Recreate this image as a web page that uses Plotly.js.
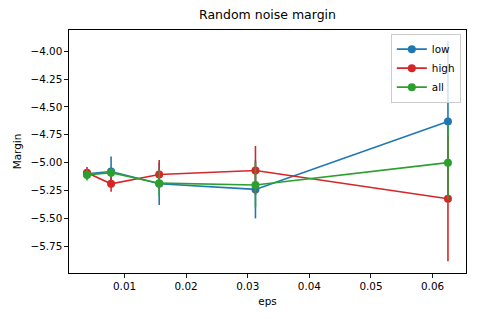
<!DOCTYPE html>
<html>
<head>
<meta charset="utf-8">
<script src="https://cdn.plot.ly/plotly-3.0.1.min.js"></script>
<style>html,body{margin:0;padding:0;background:#fff}#chart{width:478px;height:319px}</style>
</head>
<body>
<div id="chart"></div>
<script>
const eps = [0.00390625, 0.0078125, 0.015625, 0.03125, 0.0625];
const lowMean = [-5.10, -5.08, -5.19, -5.24, -4.63];
const lowErr = [0.04, 0.135, 0.19, 0.26, 0.72];
const highMean = [-5.09, -5.19, -5.106, -5.07, -5.324];
const highErr = [0.05, 0.07, 0.13, 0.22, 0.56];
const allMean = [-5.11, -5.09, -5.184, -5.20, -5.00];
const allErr = [0.05, 0.04, 0.12, 0.20, 0.33];
const seriesNames = ["low", "high", "all"];
const colors = ["#1f77b4", "#d62728", "#2ca02c"];

const means = [lowMean, highMean, allMean];
const errs = [lowErr, highErr, allErr];
const traces = seriesNames.map((n, i) => ({
  x: eps, y: means[i], name: n, type: "scatter", mode: "lines+markers",
  line: {color: colors[i], width: 1.6},
  marker: {color: colors[i], size: 8, symbol: "circle"},
  error_y: {type: "data", array: errs[i], visible: true, color: colors[i], thickness: 1.6, width: 0}
}));

const font = {family: "DejaVu Sans, sans-serif", size: 10.4, color: "#000"};
const layout = {
  width: 478, height: 319,
  margin: {l: 69, r: 12, t: 29.5, b: 46.3},
  paper_bgcolor: "#fff", plot_bgcolor: "#fff",
  font: font,
  showlegend: true,
  title: {text: "Random noise margin", font: {family: "DejaVu Sans, sans-serif", size: 12.5, color: "#000"}, x: 0.5, xref: "paper", y: 0.955, yanchor: "middle"},
  xaxis: {
    range: [0.00098, 0.06543], showgrid: false, zeroline: false,
    showline: true, mirror: true, linecolor: "#000", linewidth: 1,
    ticks: "outside", ticklen: 3.6, tickwidth: 0.9, tickcolor: "#000",
    tickvals: [0.01, 0.02, 0.03, 0.04, 0.05, 0.06], tickformat: ".2f",
    title: {text: "eps", font: font, standoff: 6}
  },
  yaxis: {
    range: [-5.99, -3.81], showgrid: false, zeroline: false,
    showline: true, mirror: true, linecolor: "#000", linewidth: 1,
    ticks: "outside", ticklen: 3.6, tickwidth: 0.9, tickcolor: "#000",
    tickvals: [-5.75, -5.5, -5.25, -5.0, -4.75, -4.5, -4.25, -4.0], tickformat: ".2f",
    title: {text: "Margin", font: font, standoff: 6}
  },
  legend: {
    x: 0.987, y: 0.985, xanchor: "right", yanchor: "top",
    bgcolor: "rgba(255,255,255,0.8)", bordercolor: "#cccccc", borderwidth: 1,
    font: font, itemwidth: 30, tracegroupgap: 0
  }
};
Plotly.newPlot("chart", traces, layout, {displayModeBar: false, staticPlot: true});
</script>
</body>
</html>
